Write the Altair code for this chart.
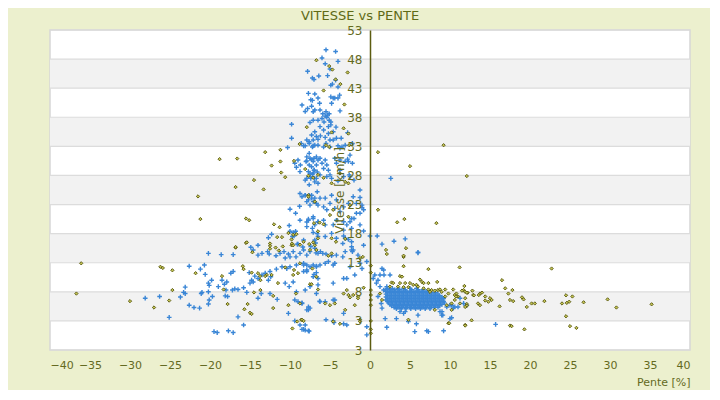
import altair as alt
import pandas as pd

# ---------------- data ----------------
blue_points = [
    (-28.1,6.9),(-26.3,7.2),(-25.1,3.6),(-23.7,7.1),(-23.3,7.9),(-23.1,7.7),(-23.1,8.8),(-22.6,12.4),(-22.6,5.7),
    (-22.0,5.3),(-21.3,5.2),(-21.2,11.9),(-21.1,7.7),(-20.7,12.6),(-20.6,11.0),(-20.2,14.6),(-20.2,8.0),(-20.2,5.9),(-20.1,9.1),
    (-14.0,16.0),(-9.0,16.2),(-8.4,15.7),(-7.4,15.8),(-6.8,16.4),(-18.6,14.4),(-17.1,14.4),(-14.6,15.2),(-14.0,14.3),
    (-13.5,14.6),(-12.8,14.9),(-12.6,14.5),(-11.75,14.2),(-11.25,14.6),(-10.75,14.9),(-10.6,13.8),(-10.2,14.5),(-10.0,14.0),
    (-9.6,14.9),(-9.25,14.0),(-8.75,14.6),(-8.3,15.2),(-7.9,14.3),(-7.5,14.9),(-6.9,15.5),(-6.5,14.6),
    (-20.2,9.5),(-19.8,10.0),(-19.7,7.2),(-21.0,7.9),(-20.1,6.6),(-18.96,8.9),(-18.5,10.0),(-18.2,9.3),(-17.9,9.7),(-18.0,8.3),
    (-17.4,11.2),(-17.1,11.5),(-17.8,7.2),(-17.2,8.3),(-16.9,8.5),(-16.5,8.4),(-15.8,8.7),(-15.4,7.9),(-18.1,7.3),(-16.5,3.7),(-15.8,2.3),
    (-15.1,11.3),(-14.4,10.7),(-14.8,10.0),(-15.0,9.5),(-14.6,9.7),(-14.0,10.3),(-13.5,10.9),(-13.1,11.2),(-12.5,11.5),(-12.7,10.0),(-12.4,10.6),
    (-14.0,6.9),(-13.6,7.7),(-12.5,7.7),(-11.6,6.7),(-11.7,11.9),(-11.0,12.3),(-10.4,12.0),(-10.0,12.3),(-9.2,12.6),(-8.3,12.9),
    (-7.9,11.75),(-7.5,12.3),(-6.7,12.4),(-10.6,9.5),(-10.1,8.9),(-9.6,9.7),(-9.2,8.0),(-8.1,8.3),(-7.5,8.9),(-6.5,9.2),
    (-9.4,6.6),(-9.0,6.3),(-8.5,6.1),(-7.5,5.2),(-7.7,4.9),(-10.2,4.3),(-9.4,3.0),(-8.75,2.3),(-8.1,2.3),(-7.7,1.3),(-8.3,1.55),
    (-19.5,1.15),(-19.1,1.0),(-17.7,1.3),(-17.1,1.0),(-6.3,6.4),(-6.7,7.7),
    (-10.3,32.8),(-10.0,22.2),(-9.3,21.5),(-8.8,22.7),(-10.1,19.4),(-9.3,18.4),(-10.0,18.4),(-9.5,17.6),(-9.7,17.5),(-9.1,16.2),
    (-12.3,17.9),(-12.7,17.3),(-14.9,15.65),
    (-8.1,33.1),(-7.6,33.8),(-7.2,32.9),(-6.9,33.2),(-9.2,29.4),(-8.75,28.65),(-7.9,31.2),(-8.0,30.4),(-7.6,31.8),(-7.6,29.8),
    (-7.3,30.7),(-7.0,30.95),(-6.7,31.2),(-6.96,28.9),(-6.6,28.6),(-7.1,28.4),(-7.5,28.4),(-7.9,27.5),(-8.1,27.2),(-7.4,27.5),
    (-6.96,27.5),(-7.6,26.4),(-6.5,26.65),(-8.75,24.9),(-8.5,24.35),(-8.1,24.6),(-7.7,23.8),(-7.3,24.1),(-6.9,24.1),(-6.7,23.2),
    (-7.6,24.6),(-6.6,25.2),(-8.75,20.3),(-7.9,20.0),(-7.7,20.5),(-7.1,20.6),(-6.5,20.0),(-7.2,18.9),(-6.6,18.0),(-6.9,16.9),(-8.3,16.9),
    (-5.5,49.6),(-4.3,49.3),(-6.0,48.2),(-5.6,47.2),(-4.0,47.6),(-5.0,46.3),(-7.8,45.9),(-7.2,44.75),(-7.0,44.5),(-6.4,45.1),
    (-5.3,45.15),(-4.3,44.4),(-4.9,43.5),(-4.7,43.7),(-4.0,43.2),(-3.8,41.8),(-7.7,42.1),(-7.4,41.0),(-7.2,40.9),
    (-6.9,42.0),(-6.5,41.3),(-6.3,40.4),(-6.9,39.25),(-7.1,38.96),(-7.3,39.9),(-8.1,39.0),(-8.5,40.1),(-7.8,39.5),(-6.25,39.25),
    (-5.9,38.6),(-5.6,38.2),(-5.3,38.4),(-5.5,38.96),(-5.1,38.6),(-4.8,40.4),(-4.6,41.3),(-4.4,41.3),(-4.0,41.3),(-4.9,41.5),(-3.75,39.1),
    (-6.5,37.5),(-6.0,37.8),(-5.75,37.2),(-5.4,38.0),(-5.1,37.5),(-4.9,37.2),(-7.1,37.5),(-7.5,37.1),(-6.25,36.4),(-5.8,35.8),
    (-5.2,36.4),(-4.9,36.7),(-4.6,35.5),(-4.25,36.3),(-6.9,35.5),(-6.7,34.7),(-7.3,34.95),(-7.9,34.1),(-7.6,33.5),(-7.1,34.1),
    (-6.5,34.2),(-6.2,34.8),(-5.6,34.55),(-5.2,35.2),(-5.0,34.1),(-4.6,34.1),(-4.2,34.4),(-3.6,34.4),(-5.5,33.5),(-5.0,32.9),
    (-5.8,32.9),(-6.5,33.2),(-7.1,33.1),(-4.0,33.1),(-3.5,32.9),(-3.75,32.7),(-3.1,33.2),(-2.2,33.5),(-9.8,36.8),(-9.8,34.4),
    (-8.6,33.5),(-8.3,33.1),
    (-9.0,30.65),(-9.4,30.1),(-8.7,29.8),(-7.9,30.5),(-7.5,30.95),(-7.1,30.4),(-7.3,29.5),(-7.7,28.65),(-7.5,27.8),(-7.2,28.2),
    (-7.0,28.9),(-6.7,29.8),(-6.5,30.65),(-6.25,30.95),(-6.0,30.1),(-5.6,30.65),(-5.4,29.8),(-5.8,29.2),(-5.2,28.9),(-5.0,28.1),
    (-6.25,28.1),(-6.7,27.5),(-6.9,26.9),(-5.4,27.8),(-4.8,27.5),(-4.4,30.95),(-4.2,30.1),(-3.75,30.65),(-3.1,30.4),(-2.8,30.8),
    (-2.6,28.1),(-3.3,27.8),(-4.0,27.05),(-3.75,28.9),
    (-8.1,24.6),(-7.3,24.6),(-7.1,23.5),(-6.25,24.1),(-5.6,24.1),(-4.8,24.6),(-4.2,23.8),(-5.0,23.2),(-5.8,22.6),(-6.5,22.9),
    (-7.5,22.9),(-7.9,23.5),(-5.4,22.1),(-4.4,22.35),(-3.75,21.8),(-3.3,22.6),(-2.7,23.2),(-2.1,24.35),(-1.25,24.2),(-1.7,23.2),
    (-1.0,22.9),(-0.8,22.1),(-1.25,21.5),(-7.7,20.3),(-7.1,20.9),(-6.5,20.05),(-5.8,20.3),(-5.6,19.5),(-6.9,19.5),(-7.9,19.2),
    (-4.6,19.5),(-4.2,20.3),(-3.3,20.05),(-2.9,19.5),(-2.3,18.9),(-1.25,19.5),(-0.8,18.45),(-2.0,20.6),
    (-9.6,18.2),(-7.1,18.2),(-5.6,17.5),(-4.8,18.05),(-4.2,17.2),(-6.5,17.5),(-3.3,17.6),(-2.7,17.0),(-2.3,16.6),
    (2.6,27.5),(0.9,17.6),(1.5,16.2),(3.0,16.7),(4.4,17.1),(6.0,14.8),
    (-2.8,35.35),(-2.5,31.5),(-2.7,30.4),(-2.2,30.1),(-2.5,27.8),(-2.0,27.2),(-1.25,25.5),(-1.0,22.5),(-1.7,21.5),(-2.3,20.6),
    (-2.5,20.05),(-3.3,18.6),(-3.1,17.2),(-3.4,16.3),(-2.3,15.75),(-2.1,15.2),(-0.8,16.0),(0.0,17.6),
    (-6.75,14.7),(-6.2,14.9),(-5.9,14.6),(-5.5,14.5),(-4.8,14.2),(-4.2,14.3),(-3.4,14.0),(-3.1,14.9),(-2.3,15.2),(-2.2,14.9),(-1.5,14.3),
    (-8.3,12.6),(-7.9,12.6),(-7.1,12.6),(-6.7,12.3),(-6.25,12.6),(-5.6,12.9),(-5.2,13.2),(-4.6,12.6),(-4.4,12.9),(-2.5,12.3),
    (-1.25,12.9),(-0.4,13.2),(-1.0,12.0),(-1.9,10.9),(-2.9,10.3),(-3.3,10.3),(-4.6,9.5),(-6.7,11.3),(-7.1,10.6),(-7.0,11.0),
    (-8.3,11.5),(-7.9,11.5),(-6.5,10.3),(-6.25,6.3),(-5.6,6.3),(-4.6,6.6),(-4.4,6.6),(-7.7,5.4),(-7.9,4.9),(-8.5,6.0),(-3.3,4.3),
    (-5.5,3.2),(-4.6,3.0),(-4.5,2.7),(-3.3,2.5),(-2.9,2.3),(-8.5,1.55),(-8.1,1.4),(-7.6,1.25),
    (1.5,12.0),(1.7,11.75),(1.25,10.9),(1.75,10.9),(1.0,10.0),(0.6,10.9),(2.5,10.9),(0.4,10.3),(0.8,9.5),(1.25,8.9),(2.1,8.9),
    (1.7,8.3),(1.0,7.2),(1.4,6.0),(1.5,5.2),(3.75,4.6),(4.2,4.3),(4.4,4.6),(3.3,3.4),(1.9,3.4),(4.8,2.9),(6.0,4.0),(5.8,2.5),
    (5.6,1.15),(7.1,1.3),(7.3,1.15),(9.2,1.3),(8.75,4.6),(8.96,4.0),(10.0,5.7),(10.6,5.4),(11.25,6.9),(11.0,5.4),(11.7,6.0),
    (6.0,14.7),(2.1,1.9),(-0.4,2.0),(-0.4,0.6),
    (9.6,5.4),(10.2,5.7),(10.4,5.2),(12.1,5.7),(9.0,4.6),(9.1,4.0),(10.2,3.55),(10.0,3.4),(15.7,2.4),
]

# dense blue cluster at 2-9 % slope, 5-8.5 km/h (listed row by row)
cluster_rows = {
    8.6: [2.2, 2.8, 3.5, 4.2, 5.0, 5.8],
    8.35: [1.9, 2.5, 3.1, 3.7, 4.4, 5.2, 6.0, 6.6],
    8.1: [2.0, 2.5, 3.0, 3.5, 4.0, 4.5, 5.0, 5.5, 6.0, 6.5, 7.0, 7.5],
    7.85: [2.2, 2.7, 3.2, 3.7, 4.2, 4.7, 5.2, 5.7, 6.2, 6.7, 7.2, 7.7, 8.2],
    7.6: [2.0, 2.5, 3.0, 3.5, 4.0, 4.5, 5.0, 5.5, 6.0, 6.5, 7.0, 7.5, 8.0, 8.5],
    7.35: [2.2, 2.7, 3.2, 3.7, 4.2, 4.7, 5.2, 5.7, 6.2, 6.7, 7.2, 7.7, 8.2, 8.7],
    7.1: [2.0, 2.5, 3.0, 3.5, 4.0, 4.5, 5.0, 5.5, 6.0, 6.5, 7.0, 7.5, 8.0, 8.5, 9.0],
    6.85: [2.2, 2.7, 3.2, 3.7, 4.2, 4.7, 5.2, 5.7, 6.2, 6.7, 7.2, 7.7, 8.2, 8.7, 9.2],
    6.6: [2.0, 2.5, 3.0, 3.5, 4.0, 4.5, 5.0, 5.5, 6.0, 6.5, 7.0, 7.5, 8.0, 8.5, 9.0],
    6.35: [2.2, 2.7, 3.2, 3.7, 4.2, 4.7, 5.2, 5.7, 6.2, 6.7, 7.2, 7.7, 8.2, 8.7, 9.2],
    6.1: [2.3, 2.8, 3.3, 3.8, 4.3, 4.8, 5.3, 5.8, 6.3, 6.8, 7.3, 7.8, 8.3, 8.8, 9.3],
    5.85: [2.5, 3.0, 3.5, 4.0, 4.5, 5.0, 5.5, 6.0, 6.5, 7.0, 7.5, 8.0, 8.5, 9.0],
    5.6: [2.7, 3.2, 3.7, 4.2, 4.7, 5.2, 5.7, 6.2, 6.7, 7.2, 7.7, 8.2, 8.7],
    5.35: [3.0, 3.5, 4.0, 4.5, 5.0, 5.5, 6.0, 6.5, 7.0, 7.5, 8.0, 8.5],
    5.1: [3.3, 3.9, 4.5, 5.1, 5.7, 6.3, 6.9, 7.5],
}

olive_points = [
    (-36.1,12.9),(-36.7,7.7),(-30.0,6.4),(-27.0,5.3),(-26.2,12.3),(-25.9,12.1),(-25.1,6.5),(-24.7,11.7),(-24.7,8.3),(-21.8,11.2),
    (-16.8,15.6),(-15.5,16.4),(-12.5,15.9),(-12.5,15.4),(-11.8,15.6),(-10.9,15.8),(-9.8,16.0),(-14.7,14.8),(-11.4,15.1),
    (-18.5,10.7),(-18.3,8.4),(-17.8,5.9),(-15.7,5.0),(-15.3,5.9),(-15.0,4.4),(-14.8,4.2),
    (-15.9,12.4),(-15.8,11.9),(-14.8,11.3),(-14.0,11.2),(-13.75,10.7),(-12.9,10.9),(-13.7,10.0),(-13.1,10.7),(-14.5,7.9),
    (-13.7,8.3),(-12.1,7.3),(-11.5,9.5),(-12.3,10.9),(-12.1,5.2),(-10.6,12.2),(-9.5,11.75),(-9.6,10.9),(-9.0,11.2),(-8.75,12.9),
    (-7.2,12.0),(-6.7,10.6),(-9.25,7.7),(-8.75,6.0),(-7.5,9.3),(-6.5,8.4),(-10.2,5.7),(-9.1,2.9),(-8.6,3.2),(-9.7,1.7),
    (-8.8,33.4),(-13.1,32.0),(-11.2,32.4),(-16.6,30.9),(-18.8,30.8),(-12.3,29.7),(-11.2,30.4),(-11.1,28.5),(-10.6,27.7),
    (-14.5,27.2),(-16.8,26.0),(-13.3,25.6),(-21.5,24.4),(-21.2,20.5),(-15.5,20.6),(-15.1,20.3),(-12.0,19.6),(-11.3,19.1),
    (-11.6,17.4),(-11.0,17.4),(-15.4,16.5),(-16.8,15.7),(-12.5,16.3),(-10.2,18.1),(-9.8,17.0),(-9.75,16.3),(-9.6,16.0),
    (-7.7,24.6),(-6.9,23.5),(-7.0,19.8),(-6.5,18.4),(-6.5,17.2),(-7.6,16.2),(-6.9,16.0),(-8.75,16.1),
    (-6.7,47.8),(-5.1,46.8),(-4.7,46.2),(-2.8,45.7),(-4.3,44.5),(-3.7,43.7),(-5.8,42.6),(-3.2,40.2),(-7.9,36.3),(-4.8,35.4),
    (-3.3,36.1),(-2.7,35.2),(-5.5,33.2),(-5.1,32.9),(-2.6,33.2),
    (-9.5,30.5),(-8.1,29.1),(-7.7,27.95),(-7.1,27.6),(-6.5,28.1),(-5.8,27.6),(-4.8,26.65),(-3.75,28.35),(-3.1,26.9),(-2.7,26.65),
    (-7.7,24.35),(-4.6,22.1),(-2.5,22.9),(-2.7,20.9),(-5.0,21.2),(-6.3,19.9),(-5.8,19.6),(-9.6,17.8),(-9.2,17.9),(-8.3,16.6),
    (-7.1,16.5),(-4.8,17.2),(-4.25,16.6),(-3.1,17.1),
    (9.2,33.2),(1.0,32.0),(5.0,29.6),(1.0,22.1),(3.4,19.95),(4.3,20.5),(8.3,19.8),(4.5,15.5),(2.0,15.2),(2.1,14.5),(4.2,14.0),(12.1,27.9),
    (0.1,12.5),(0.1,11.3),(0.1,8.3),(0.1,7.45),(0.1,6.6),(0.1,5.7),(0.1,3.0),(0.1,1.55),(0.1,0.87),
    (-7.5,15.2),(-6.7,15.2),(-5.2,14.2),(-4.8,14.6),(-0.9,14.0),(-1.25,13.8),
    (-7.3,9.3),(-2.9,8.3),(-3.3,7.7),(-2.7,7.45),(-2.5,7.05),(-2.1,7.45),(-3.1,4.9),(-1.9,5.7),(-1.5,7.2),(-1.5,6.9),
    (-4.6,2.9),(-3.75,2.5),(-4.4,6.0),(-5.6,6.0),(-5.0,5.7),(-8.5,3.2),(-8.3,3.0),(-0.8,8.7),(-1.25,3.2),(-1.25,2.9),
    (4.2,14.2),(4.2,12.4),(7.3,11.9),(11.2,12.2),(3.75,10.7),(4.0,10.6),(6.25,10.1),(6.5,9.7),(6.7,9.5),(8.4,9.7),(7.3,9.5),
    (2.7,9.6),(2.9,9.5),(3.75,9.5),(4.4,9.5),(5.0,9.5),(5.4,9.2),(5.8,9.2),(6.0,8.9),(3.5,8.9),(2.5,8.9),(4.2,8.8),(4.8,8.8),
    (6.7,8.6),(7.3,8.4),(7.7,8.3),(8.1,8.2),(8.5,8.3),(8.96,8.0),(7.5,8.0),(8.75,8.4),(9.4,8.4),(10.4,8.4),(10.8,7.7),(11.0,7.2),
    (10.6,7.45),(11.7,8.3),(12.2,7.85),(11.9,6.9),(11.25,6.0),(10.2,6.0),(9.6,5.7),(10.2,4.9),(8.1,4.9),(4.8,3.2),(9.8,2.6),
    (11.9,2.3),(12.1,5.9),(1.25,7.7),(1.5,6.6),
    (22.7,12.0),(16.5,10.0),(16.9,8.6),(17.8,8.3),(17.3,7.7),(11.8,9.0),(11.5,8.2),(11.9,8.0),(12.1,7.85),(12.8,8.2),(12.9,7.45),
    (13.0,7.4),(13.75,7.7),(14.0,7.85),(13.6,7.45),(14.4,7.2),(15.0,6.9),(15.2,6.6),(14.4,6.5),(14.8,6.3),(13.5,6.0),(13.75,5.7),
    (10.75,7.2),(10.6,6.6),(9.8,7.7),(9.4,7.2),(12.1,5.6),(11.9,5.4),(12.7,3.1),(9.9,2.6),(11.9,2.2),(16.2,5.5),(17.5,6.6),
    (17.9,6.4),(19.0,7.05),(19.2,6.7),(19.6,5.4),(20.2,6.0),(20.6,6.0),(21.8,6.4),(24.0,6.0),(24.6,6.1),(24.9,6.3),(24.5,7.4),
    (25.3,7.2),(26.7,6.2),(29.7,6.7),(30.8,5.3),(35.2,5.85),(24.5,3.8),(25.0,2.1),(25.8,1.8),(17.5,2.2),(17.7,2.1),(19.3,1.55),
]

y_ticks = [-2, 3, 8, 13, 18, 23, 28, 33, 38, 43, 48, 53]
x_ticks = [-40, -35, -30, -25, -20, -15, -10, -5, 0, 5, 10, 15, 20, 25, 30, 35, 40]
gray_band_lo = [3, 13, 23, 33, 43]
gray_band_hi = [8, 18, 28, 38, 48]

# ---------------- tables ----------------
blue_all = list(blue_points)
for yv, xs in cluster_rows.items():
    blue_all += [(xv, yv) for xv in xs]
blue_df = pd.DataFrame(blue_all, columns=["pente", "vitesse"])
olive_df = pd.DataFrame(olive_points, columns=["pente", "vitesse"])
band_df = pd.DataFrame({"vitesse": gray_band_lo, "hi": gray_band_hi})
grid_df = pd.DataFrame({"vitesse": y_ticks})

OLIVE_TXT = "#646a1e"
FONT = "DejaVu Sans"

xscale = alt.Scale(domain=[-40, 40], nice=False, zero=False)
yscale = alt.Scale(domain=[-2, 53], nice=False, zero=False)

x_axis = alt.Axis(
    values=x_ticks, title="Pente [%]", grid=False, domain=False, ticks=False,
    labelColor=OLIVE_TXT, labelFont=FONT, labelFontSize=11, labelPadding=9,
    titleColor=OLIVE_TXT, titleFont=FONT, titleFontSize=11, titleFontWeight="normal",
    titleAnchor="end", titlePadding=6)
y_axis = alt.Axis(
    values=y_ticks, labelExpr="datum.value < 0 ? '3' : datum.label",
    title="Vitesse [km/h]", grid=False, ticks=False, offset=-320, zindex=1,
    domainColor="#5c5c10", domainWidth=1.5,
    labelColor=OLIVE_TXT, labelFont=FONT, labelFontSize=12, labelPadding=8,
    titleColor=OLIVE_TXT, titleFont=FONT, titleFontSize=12, titleFontWeight="normal",
    titleX=-27, titleY=160, titleAngle=270, titleBaseline="alphabetic")

x_enc = alt.X("pente:Q", scale=xscale, axis=x_axis)
y_enc = alt.Y("vitesse:Q", scale=yscale, axis=y_axis)

bands = alt.Chart(band_df).mark_rect(color="#f2f2f2").encode(y=y_enc, y2="hi:Q")
grid = alt.Chart(grid_df).mark_rule(color="#dcdcdc", strokeWidth=1.2).encode(y=y_enc)

blue = alt.Chart(blue_df).mark_point(
    shape="M-1,0H1M0,-1V1", filled=False, color="#3a86d6", strokeWidth=1.4, size=22, opacity=1
).encode(x=x_enc, y=y_enc)

olive = alt.Chart(olive_df).mark_point(
    shape="diamond", filled=True, fill="#c4c454", stroke="#56560c", strokeWidth=0.9, size=11, opacity=1
).encode(x=x_enc, y=y_enc)

chart = alt.layer(bands, grid, blue, olive).properties(
    width=640, height=320,
    autosize=alt.AutoSizeParams(type="none"),
    padding={"left": 42, "top": 22, "right": 20, "bottom": 40},
    background="#ecf0ce",
    title=alt.TitleParams("VITESSE vs PENTE", font=FONT, fontSize=13, fontWeight="normal",
                          color="#5f6a16", dx=-10, offset=1),
).configure_view(stroke="#d6d6d6", strokeWidth=1.5, fill="white")

chart.save("out.html", embed_options={"renderer": "svg", "actions": False})
